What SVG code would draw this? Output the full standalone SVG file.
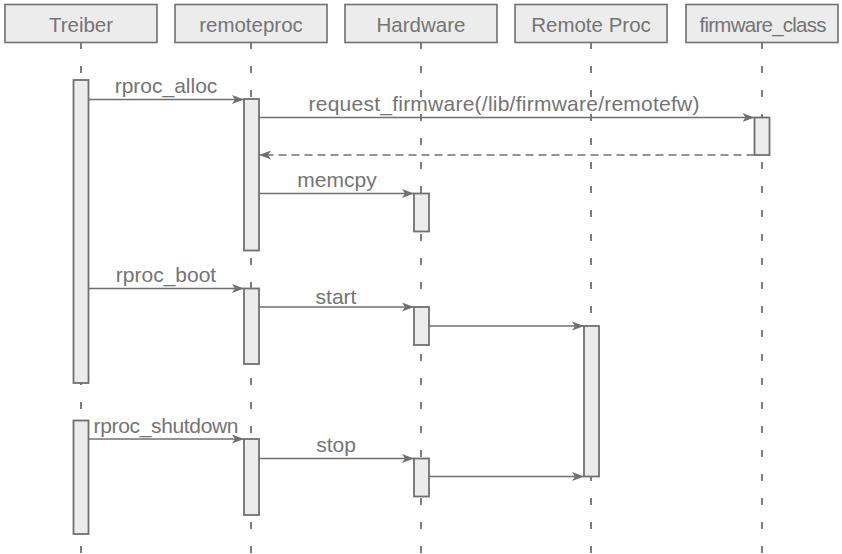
<svg xmlns="http://www.w3.org/2000/svg" width="842" height="554" viewBox="0 0 842 554">
  <defs>
    <marker id="arrow" markerUnits="userSpaceOnUse" markerWidth="14" markerHeight="12" refX="12" refY="5" orient="auto">
      <path d="M0,0.5 L12,5 L0,9.5 L3,5 Z" fill="#707070"/>
    </marker>
  </defs>
  <style>
    .head { fill: #ececec; stroke: #707070; stroke-width: 1.6; }
    .act { fill: #ececec; stroke: #707070; stroke-width: 1.8; }
    .life { stroke: #707070; stroke-width: 1.8; stroke-dasharray: 7 17; fill: none; }
    .msg { stroke: #707070; stroke-width: 1.6; fill: none; marker-end: url(#arrow); }
    .ret { stroke-dasharray: 8 5; }
    text { font-family: "Liberation Sans", Arial, sans-serif; fill: #747474; text-anchor: middle; }
    .title { font-size: 20.5px; }
    .label { font-size: 21px; }
  </style>

  <!-- lifelines -->
  <g id="lifelines">
    <line class="life" x1="81" y1="42" x2="81" y2="554"/>
    <line class="life" x1="251" y1="42" x2="251" y2="554"/>
    <line class="life" x1="421" y1="42" x2="421" y2="554"/>
    <line class="life" x1="591" y1="42" x2="591" y2="554"/>
    <line class="life" x1="762" y1="42" x2="762" y2="554"/>
  </g>

  <!-- participants -->
  <g id="treiber">
    <rect class="head" x="5" y="4.5" width="152" height="38"/>
    <text class="title" x="81" y="31.5">Treiber</text>
    <rect class="act" x="73.5" y="80" width="15" height="303"/>
    <rect class="act" x="73.5" y="420.5" width="15" height="113.5"/>
  </g>
  <g id="remoteproc">
    <rect class="head" x="175" y="4.5" width="152" height="38"/>
    <text class="title" x="251" y="31.5">remoteproc</text>
    <rect class="act" x="244" y="99" width="15" height="151.5"/>
    <rect class="act" x="244" y="288.5" width="15" height="75.5"/>
    <rect class="act" x="244" y="439" width="15" height="76"/>
  </g>
  <g id="hardware">
    <rect class="head" x="345" y="4.5" width="152" height="38"/>
    <text class="title" x="421" y="31.5">Hardware</text>
    <rect class="act" x="414" y="193.5" width="15" height="38"/>
    <rect class="act" x="414" y="307" width="15" height="38"/>
    <rect class="act" x="414" y="458.5" width="15" height="38"/>
  </g>
  <g id="remote-proc">
    <rect class="head" x="515" y="4.5" width="152" height="38"/>
    <text class="title" x="591" y="31.5">Remote Proc</text>
    <rect class="act" x="584" y="326" width="15" height="150.5"/>
  </g>
  <g id="firmware-class">
    <rect class="head" x="686" y="4.5" width="152" height="38"/>
    <text class="title" x="763" y="31.5" textLength="127">firmware_class</text>
    <rect class="act" x="754.5" y="117.5" width="15" height="37.5"/>
  </g>

  <!-- messages -->
  <g id="connectors">
    <line class="msg" x1="88.5" y1="99.5" x2="244" y2="99.5"/>
    <text class="label" x="166" y="92.5">rproc_alloc</text>

    <line class="msg" x1="259" y1="117.5" x2="754.5" y2="117.5"/>
    <text class="label" x="504" y="110.5" textLength="391">request_firmware(/lib/firmware/remotefw)</text>

    <line class="msg ret" x1="754.5" y1="155" x2="259" y2="155"/>

    <line class="msg" x1="259" y1="193.5" x2="414" y2="193.5"/>
    <text class="label" x="337" y="186.5">memcpy</text>

    <line class="msg" x1="88.5" y1="288.5" x2="244" y2="288.5"/>
    <text class="label" x="166" y="281.5">rproc_boot</text>

    <line class="msg" x1="259" y1="307" x2="414" y2="307"/>
    <text class="label" x="336" y="304">start</text>

    <line class="msg" x1="429" y1="326" x2="584" y2="326"/>

    <line class="msg" x1="88.5" y1="439" x2="244" y2="439"/>
    <text class="label" x="166" y="432.5" textLength="145">rproc_shutdown</text>

    <line class="msg" x1="259" y1="458.5" x2="414" y2="458.5"/>
    <text class="label" x="336" y="452">stop</text>

    <line class="msg" x1="429" y1="476.5" x2="584" y2="476.5"/>
  </g>
</svg>
